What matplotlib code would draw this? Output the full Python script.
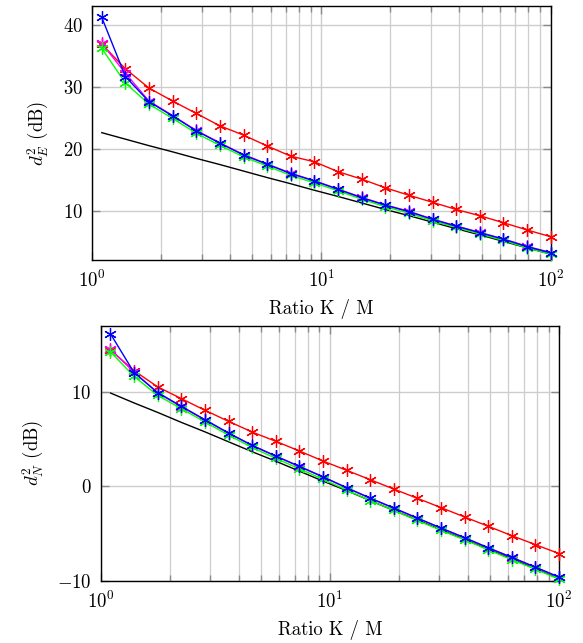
import matplotlib
matplotlib.use("Agg")
import matplotlib.pyplot as plt
from matplotlib.ticker import LogLocator, NullFormatter, FixedLocator

plt.rcParams["font.family"] = "serif"
plt.rcParams["font.serif"] = ["cmr10"]
plt.rcParams["mathtext.fontset"] = "cm"
plt.rcParams["axes.formatter.use_mathtext"] = True

# Ratio K / M (x positions of the markers)
ratio = [1.1, 1.395, 1.768, 2.242, 2.843, 3.605, 4.571, 5.796, 7.349, 9.316,
         11.81, 14.98, 18.99, 24.08, 30.53, 38.71, 49.08, 62.23, 78.89, 100.0]

# Top panel: d_E^2 (dB)
red_e = [36.9, 32.9, 29.8, 27.7, 25.7, 23.7, 22.2, 20.45, 18.8, 17.9,
         16.3, 15.1, 13.7, 12.5, 11.36, 10.2, 9.19, 8.06, 6.9, 5.8]
magenta_e = [37.0, 32.2, 27.7, 25.35, 22.95, 20.95, 19.05, 17.55, 16.05, 14.85,
             13.5, 12.15, 10.95, 9.9, 8.65, 7.55, 6.5, 5.45, 4.25, 3.25]
green_e = [36.2, 30.6, 27.2, 24.9, 22.5, 20.55, 18.7, 17.2, 15.7, 14.5,
           13.2, 11.85, 10.65, 9.6, 8.35, 7.3, 6.25, 5.2, 4.0, 3.0]
blue_e = [41.2, 31.65, 27.6, 25.3, 22.9, 20.9, 19.0, 17.5, 16.0, 14.8,
          13.45, 12.1, 10.9, 9.85, 8.6, 7.5, 6.45, 5.4, 4.2, 3.2]
black_e = [22.6, 21.55, 20.5, 19.5, 18.45, 17.45, 16.4, 15.35, 14.35, 13.3,
           12.3, 11.25, 10.2, 9.2, 8.15, 7.1, 6.1, 5.05, 4.0, 3.0]

# Bottom panel: d_N^2 (dB)
red_n = [14.4, 12.2, 10.5, 9.26, 8.03, 6.86, 5.73, 4.75, 3.73, 2.67,
         1.69, 0.70, -0.29, -1.27, -2.25, -3.24, -4.22, -5.21, -6.16, -7.1]
magenta_n = [14.45, 12.05, 9.85, 8.4, 7.0, 5.6, 4.3, 3.17, 2.08, 0.98,
             -0.17, -1.27, -2.32, -3.38, -4.43, -5.45, -6.51, -7.53, -8.56, -9.61]
green_n = [14.2, 11.6, 9.6, 8.2, 6.8, 5.4, 4.1, 2.95, 1.85, 0.75,
           -0.4, -1.5, -2.55, -3.6, -4.65, -5.65, -6.7, -7.75, -8.75, -9.8]
blue_n = [16.1, 12.0, 9.9, 8.45, 7.04, 5.63, 4.33, 3.2, 2.11, 1.01,
          -0.14, -1.24, -2.29, -3.35, -4.4, -5.42, -6.48, -7.5, -8.53, -9.58]
black_n = [9.85, 8.8, 7.8, 6.75, 5.75, 4.7, 3.65, 2.65, 1.6, 0.55,
           -0.45, -1.5, -2.55, -3.55, -4.6, -5.6, -6.65, -7.65, -8.7, -9.75]

STAR = (6, 2, 0)
GRID = "#cdcdcd"
FS = 13.5


def draw_panel(ax, red, magenta, green, blue, black, ylim, yticks, ylabel):
    ax.plot(ratio, black, color="black", lw=1.0, zorder=3)
    for ys, c in [(red, "#ff0000"), (magenta, "#ff00ff"), (green, "#00ff00"), (blue, "#0000ff")]:
        ax.plot(ratio, ys, color=c, lw=1.0, marker=STAR, markersize=9,
                markeredgewidth=0.9, zorder=4, clip_on=False)

    ax.set_xscale("log")
    ax.set_xlim(1, 100)
    ax.set_ylim(*ylim)
    ax.yaxis.set_major_locator(FixedLocator(yticks))
    ax.xaxis.set_major_locator(LogLocator(base=10))
    ax.xaxis.set_minor_locator(LogLocator(base=10, subs=range(2, 10)))
    ax.xaxis.set_minor_formatter(NullFormatter())

    ax.grid(which="major", axis="both", color=GRID, lw=1.0)
    ax.grid(which="minor", axis="x", color=GRID, lw=0.9)
    ax.set_axisbelow(True)

    ax.tick_params(which="both", direction="in", top=True, right=True,
                   color="#8a8a8a", labelsize=FS, pad=7)
    ax.tick_params(which="major", length=6, width=1.0)
    ax.tick_params(which="minor", length=4, width=1.0)
    for s in ax.spines.values():
        s.set_linewidth(1.0)
        s.set_color("black")

    ax.set_xlabel("Ratio K / M", fontsize=FS, labelpad=6)
    ax.set_ylabel(ylabel, fontsize=FS, labelpad=8)


fig = plt.figure(figsize=(5.83, 6.43), dpi=100)
ax1 = fig.add_axes([0.1583, 0.5952, 0.7863, 0.396])
ax2 = fig.add_axes([0.1732, 0.0964, 0.7856, 0.397])

draw_panel(ax1, red_e, magenta_e, green_e, blue_e, black_e,
           (2.0, 43.1), [10, 20, 30, 40], r"$d_E^2$ (dB)")
draw_panel(ax2, red_n, magenta_n, green_n, blue_n, black_n,
           (-10, 16.95), [-10, 0, 10], r"$d_N^2$ (dB)")

fig.savefig("out.png", dpi=100)
